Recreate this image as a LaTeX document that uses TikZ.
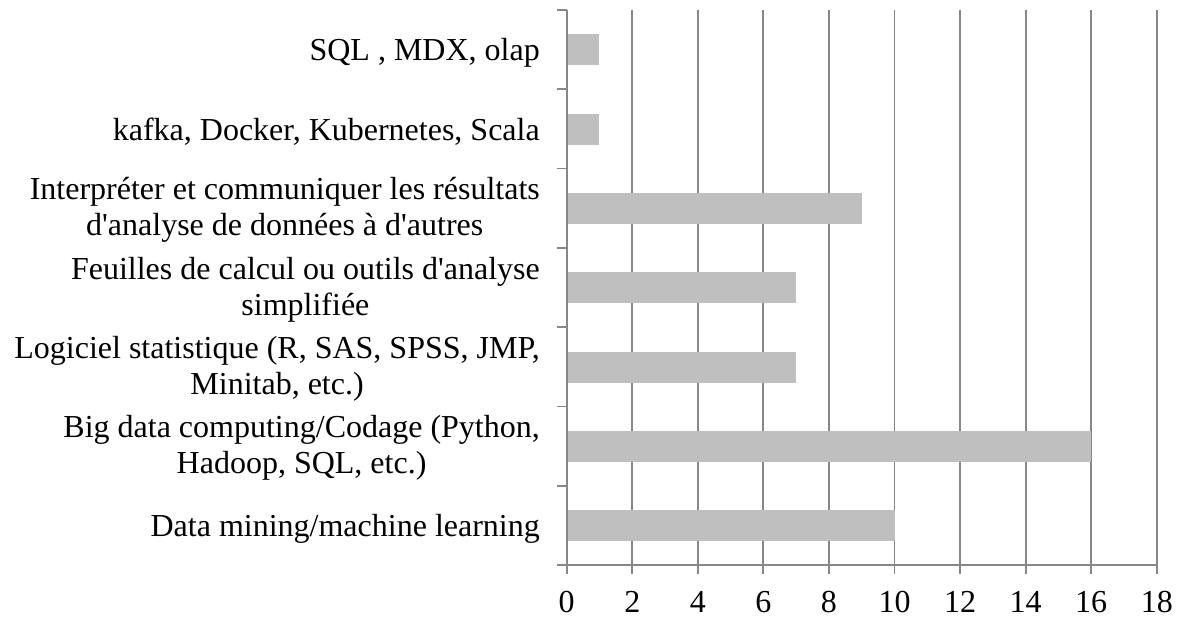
\documentclass[tikz,border=0pt]{standalone}
\usepackage{fontspec}
\setmainfont{Liberation Serif}[Ligatures=TeXOff]
\definecolor{gridgray}{HTML}{878787}
\definecolor{barfill}{HTML}{BFBFBF}
\begin{document}
\begin{tikzpicture}[x=1pt,y=-1pt,
  gridline/.style={draw=gridgray,line width=1.8pt},
  barbox/.style={fill=barfill,draw=none},
  catlabel/.style={anchor=east,align=center,inner sep=0pt,font=\fontsize{32}{36}\selectfont},
  ticklabel/.style={anchor=base,inner sep=0pt,font=\fontsize{32}{36}\selectfont}]
\useasboundingbox (0,0) rectangle (1181,618);
% scale: value v at x = 566.7 + 32.78 v ; category k spans 10 + 79.29 k .. +79.29
\def\xo{566.7}\def\u{32.78}\def\ytop{10}\def\ybot{565}\def\cs{79.286}
% vertical grid lines
\foreach \v in {2,4,...,18}
  \draw[gridline] ({\xo+\u*\v},\ytop) -- ({\xo+\u*\v},\ybot);
% bars, top to bottom
\foreach \val [count=\k from 0] in {1,1,9,7,7,16,10}
  \fill[barbox] (\xo,{\ytop+\cs*\k+24.5}) rectangle ({\xo+\u*\val},{\ytop+\cs*\k+55.5});
% category axis with ticks between categories
\draw[gridline] (\xo,\ytop) -- (\xo,\ybot);
\foreach \k in {0,...,6}
  \draw[gridline] (557,{\ytop+\cs*\k}) -- (\xo,{\ytop+\cs*\k});
% value axis with ticks
\draw[gridline] (557,\ybot) -- ({\xo+\u*18},\ybot);
\foreach \v in {0,2,...,18} {
  \draw[gridline] ({\xo+\u*\v},\ybot) -- ({\xo+\u*\v},574);
  \node[ticklabel] (t\v) at ({\xo+\u*\v},612) {\v};
}
% category labels
\node[catlabel] (c0) at (540,{\ytop+\cs*0.5+3}) {SQL , MDX, olap};
\node[catlabel] (c1) at (540,{\ytop+\cs*1.5+3}) {kafka, Docker, Kubernetes, Scala};
\node[catlabel] (c2) at (540,{\ytop+\cs*2.5+2}) {Interpréter et communiquer les résultats\\d'analyse de données à d'autres};
\node[catlabel] (c3) at (540,{\ytop+\cs*3.5+2}) {Feuilles de calcul ou outils d'analyse\\simplifiée};
\node[catlabel] (c4) at (540,{\ytop+\cs*4.5+2}) {Logiciel statistique (R, SAS, SPSS, JMP,\\Minitab, etc.)};
\node[catlabel] (c5) at (540,{\ytop+\cs*5.5+2}) {Big data computing/Codage (Python,\\Hadoop, SQL, etc.)};
\node[catlabel] (c6) at (540,{\ytop+\cs*6.5+3}) {Data mining/machine learning};
\end{tikzpicture}
\end{document}
